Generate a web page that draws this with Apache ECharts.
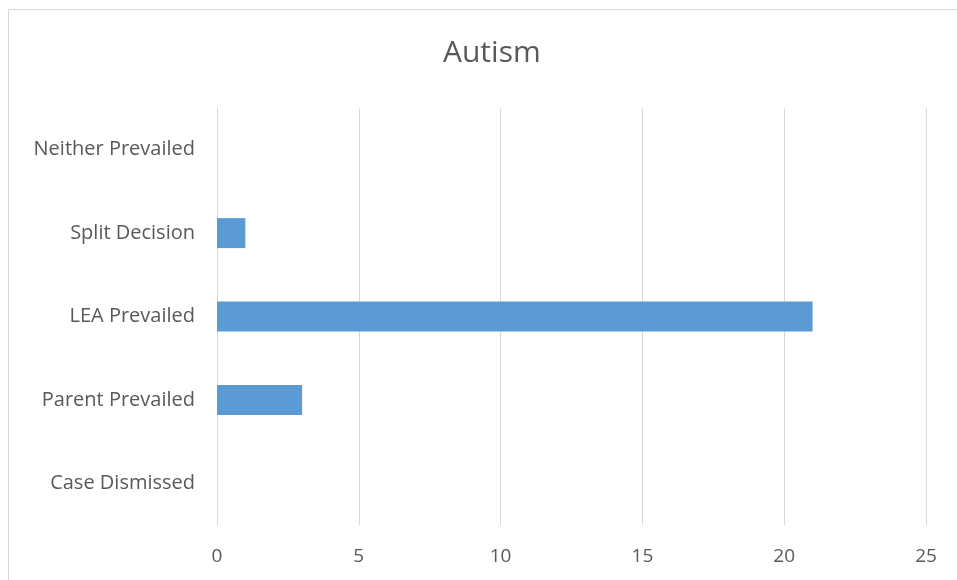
<!DOCTYPE html>
<html><head><meta charset="utf-8">
<script src="https://cdn.jsdelivr.net/npm/echarts@6/dist/echarts.min.js"></script>
<style>html,body{margin:0;padding:0;background:#fff}#c{width:957px;height:580px}</style>
</head><body><div id="c"></div>
<script>
const categories = ["Case Dismissed", "Parent Prevailed", "LEA Prevailed", "Split Decision", "Neither Prevailed"];
const values = [0, 3, 21, 1, 0];
const xTicks = [0, 5, 10, 15, 20, 25];

const chart = echarts.init(document.getElementById('c'));
chart.setOption({
  animation: false,
  backgroundColor: '#fff',
  graphic: [{
    type: 'rect', shape: {x: 8.5, y: 9.5, width: 1000, height: 1000},
    style: {fill: 'none', stroke: '#d9d9d9', lineWidth: 1}, silent: true
  }],
  title: {
    text: 'Autism', left: 438, top: 33,
    textStyle: {fontFamily: 'Open Sans', fontSize: 30, fontWeight: 'normal', color: '#595959'}
  },
  grid: {left: 217, right: 31, top: 108, bottom: 55, containLabel: false},
  xAxis: {
    type: 'value', min: xTicks[0], max: xTicks[xTicks.length - 1], interval: 5,
    axisLine: {show: false}, axisTick: {show: false},
    splitLine: {lineStyle: {color: '#d9d9d9', width: 1}},
    axisLabel: {margin: 22, fontFamily: 'Open Sans', fontSize: 19, color: '#595959'}
  },
  yAxis: {
    type: 'category', data: categories,
    axisLine: {show: true, lineStyle: {color: '#d9d9d9'}}, axisTick: {show: false},
    axisLabel: {margin: 22, fontFamily: 'Open Sans', fontSize: 20, color: '#595959'}
  },
  series: [{
    type: 'bar', data: values, barWidth: 30,
    itemStyle: {color: '#5b9bd5'}
  }]
});
</script></body></html>
